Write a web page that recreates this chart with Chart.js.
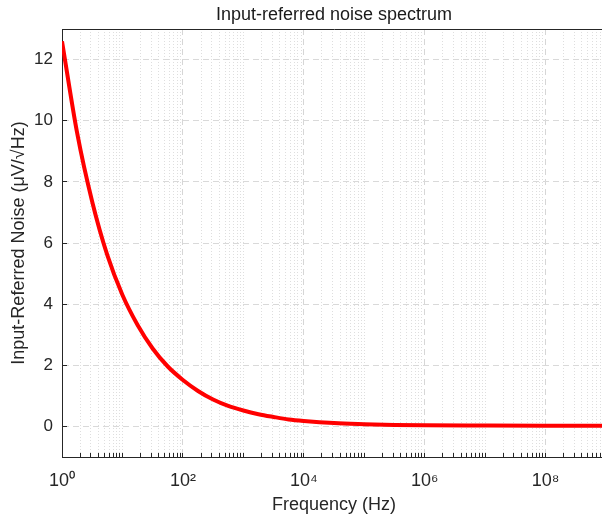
<!DOCTYPE html>
<html>
<head>
<meta charset="utf-8">
<title>Input-referred noise spectrum</title>
<script src="https://cdn.jsdelivr.net/npm/chart.js@4/dist/chart.umd.min.js"></script>
<style>
  html, body { margin: 0; padding: 0; background: #fff; overflow: hidden; }
  #wrap { width: 623px; height: 517px; }
</style>
</head>
<body>
<div id="wrap"><canvas id="chart" width="623" height="517"></canvas></div>
<script>
// values
const freqHz = [1, 1.78, 3.16, 5.62, 10, 17.8, 31.6, 56.2, 100, 178, 316, 562,
  1e3, 1.78e3, 3.16e3, 5.62e3, 1e4, 3.16e4, 1e5, 3.16e5, 1e6, 1e7, 1e8, 1e9];
const noiseUV = [12.6, 9.6, 7.35, 5.6, 4.3, 3.32, 2.55, 1.96, 1.52, 1.16, 0.88, 0.67,
  0.52, 0.40, 0.31, 0.23, 0.18, 0.11, 0.075, 0.05, 0.035, 0.028, 0.025, 0.025];

const xTickValues = [1, 1e2, 1e4, 1e6, 1e8];
const xTickLabels = ['10⁰', '10²', '10⁴', '10⁶', '10⁸'];
const decades = [1, 1e1, 1e2, 1e3, 1e4, 1e5, 1e6, 1e7, 1e8];
const yTickValues = [0, 2, 4, 6, 8, 10, 12];

const textColor = '#262626';
const axisColor = '#262626';
const font = 'Arial, "Liberation Sans", Helvetica, sans-serif';

function isMajor(v) {
  return xTickValues.some(t => Math.abs(v / t - 1) < 1e-6);
}

const points = freqHz.map((f, i) => ({ x: f, y: noiseUV[i] }));

new Chart(document.getElementById('chart'), {
  type: 'line',
  data: {
    datasets: [{
      data: points,
      borderColor: '#ff0000',
      borderWidth: 4,
      pointRadius: 0,
      cubicInterpolationMode: 'monotone',
      fill: false
    }]
  },
  options: {
    responsive: false,
    animation: false,
    layout: { padding: { left: 0, right: 5, top: 0, bottom: 0 } },
    plugins: {
      legend: { display: false },
      tooltip: { enabled: false },
      title: {
        display: true,
        fullSize: false,
        text: 'Input-referred noise spectrum',
        color: '#1a1a1a',
        font: { family: font, size: 18, weight: 'normal' },
        padding: { top: 4, bottom: 3.4 }
      }
    },
    scales: {
      x: {
        type: 'logarithmic',
        min: 1,
        max: 1e9,
        afterBuildTicks: scale => {
          const ticks = [];
          decades.forEach(d => {
            for (let m = 1; m <= 9; m++) ticks.push({ value: d * m });
          });
          ticks.push({ value: 1e9 });
          scale.ticks = ticks;
        },
        afterFit: scale => { scale.height = 60; },
        ticks: {
          autoSkip: false,
          maxRotation: 0,
          color: textColor,
          font: { family: font, size: 18 },
          padding: 17,
          callback: (v) => {
            const i = xTickValues.findIndex(t => Math.abs(v / t - 1) < 1e-6);
            return i >= 0 ? xTickLabels[i] : '';
          }
        },
        grid: {
          drawTicks: true,
          tickLength: -4,
          tickColor: axisColor,
          tickWidth: 1,
          lineWidth: 1,
          color: ctx => (ctx.tick && isMajor(ctx.tick.value)) ? '#d6d6d6' : '#dedede'
        },
        border: {
          display: true,
          color: axisColor,
          width: 1,
          dash: ctx => ctx.tick ? (isMajor(ctx.tick.value) ? [6, 4] : [1, 2]) : []
        },
        title: {
          display: true,
          text: 'Frequency (Hz)',
          color: textColor,
          font: { family: font, size: 18 },
          padding: { top: 0, bottom: 1 }
        }
      },
      xTop: {
        type: 'logarithmic',
        position: 'top',
        min: 1,
        max: 1e9,
        afterFit: scale => { scale.height = 0; },
        ticks: { display: false },
        grid: { display: false, drawTicks: false },
        border: { display: true, color: axisColor, width: 1 }
      },
      y: {
        min: -1,
        max: 13,
        afterBuildTicks: scale => {
          scale.ticks = yTickValues.map(v => ({ value: v }));
        },
        afterFit: scale => { scale.width = 62; },
        ticks: {
          color: textColor,
          font: { family: font, size: 17 },
          padding: 14
        },
        grid: {
          drawTicks: true,
          tickLength: -5,
          tickColor: axisColor,
          tickWidth: 1,
          lineWidth: 1,
          color: '#d9d9d9'
        },
        border: {
          display: true,
          color: axisColor,
          width: 1,
          dash: ctx => ctx.tick ? [6, 4] : []
        },
        title: {
          display: true,
          text: 'Input-Referred Noise (μV/√Hz)',
          color: textColor,
          font: { family: font, size: 18 },
          padding: { top: 8, bottom: 0 }
        }
      }
    }
  }
});
</script>
</body>
</html>
